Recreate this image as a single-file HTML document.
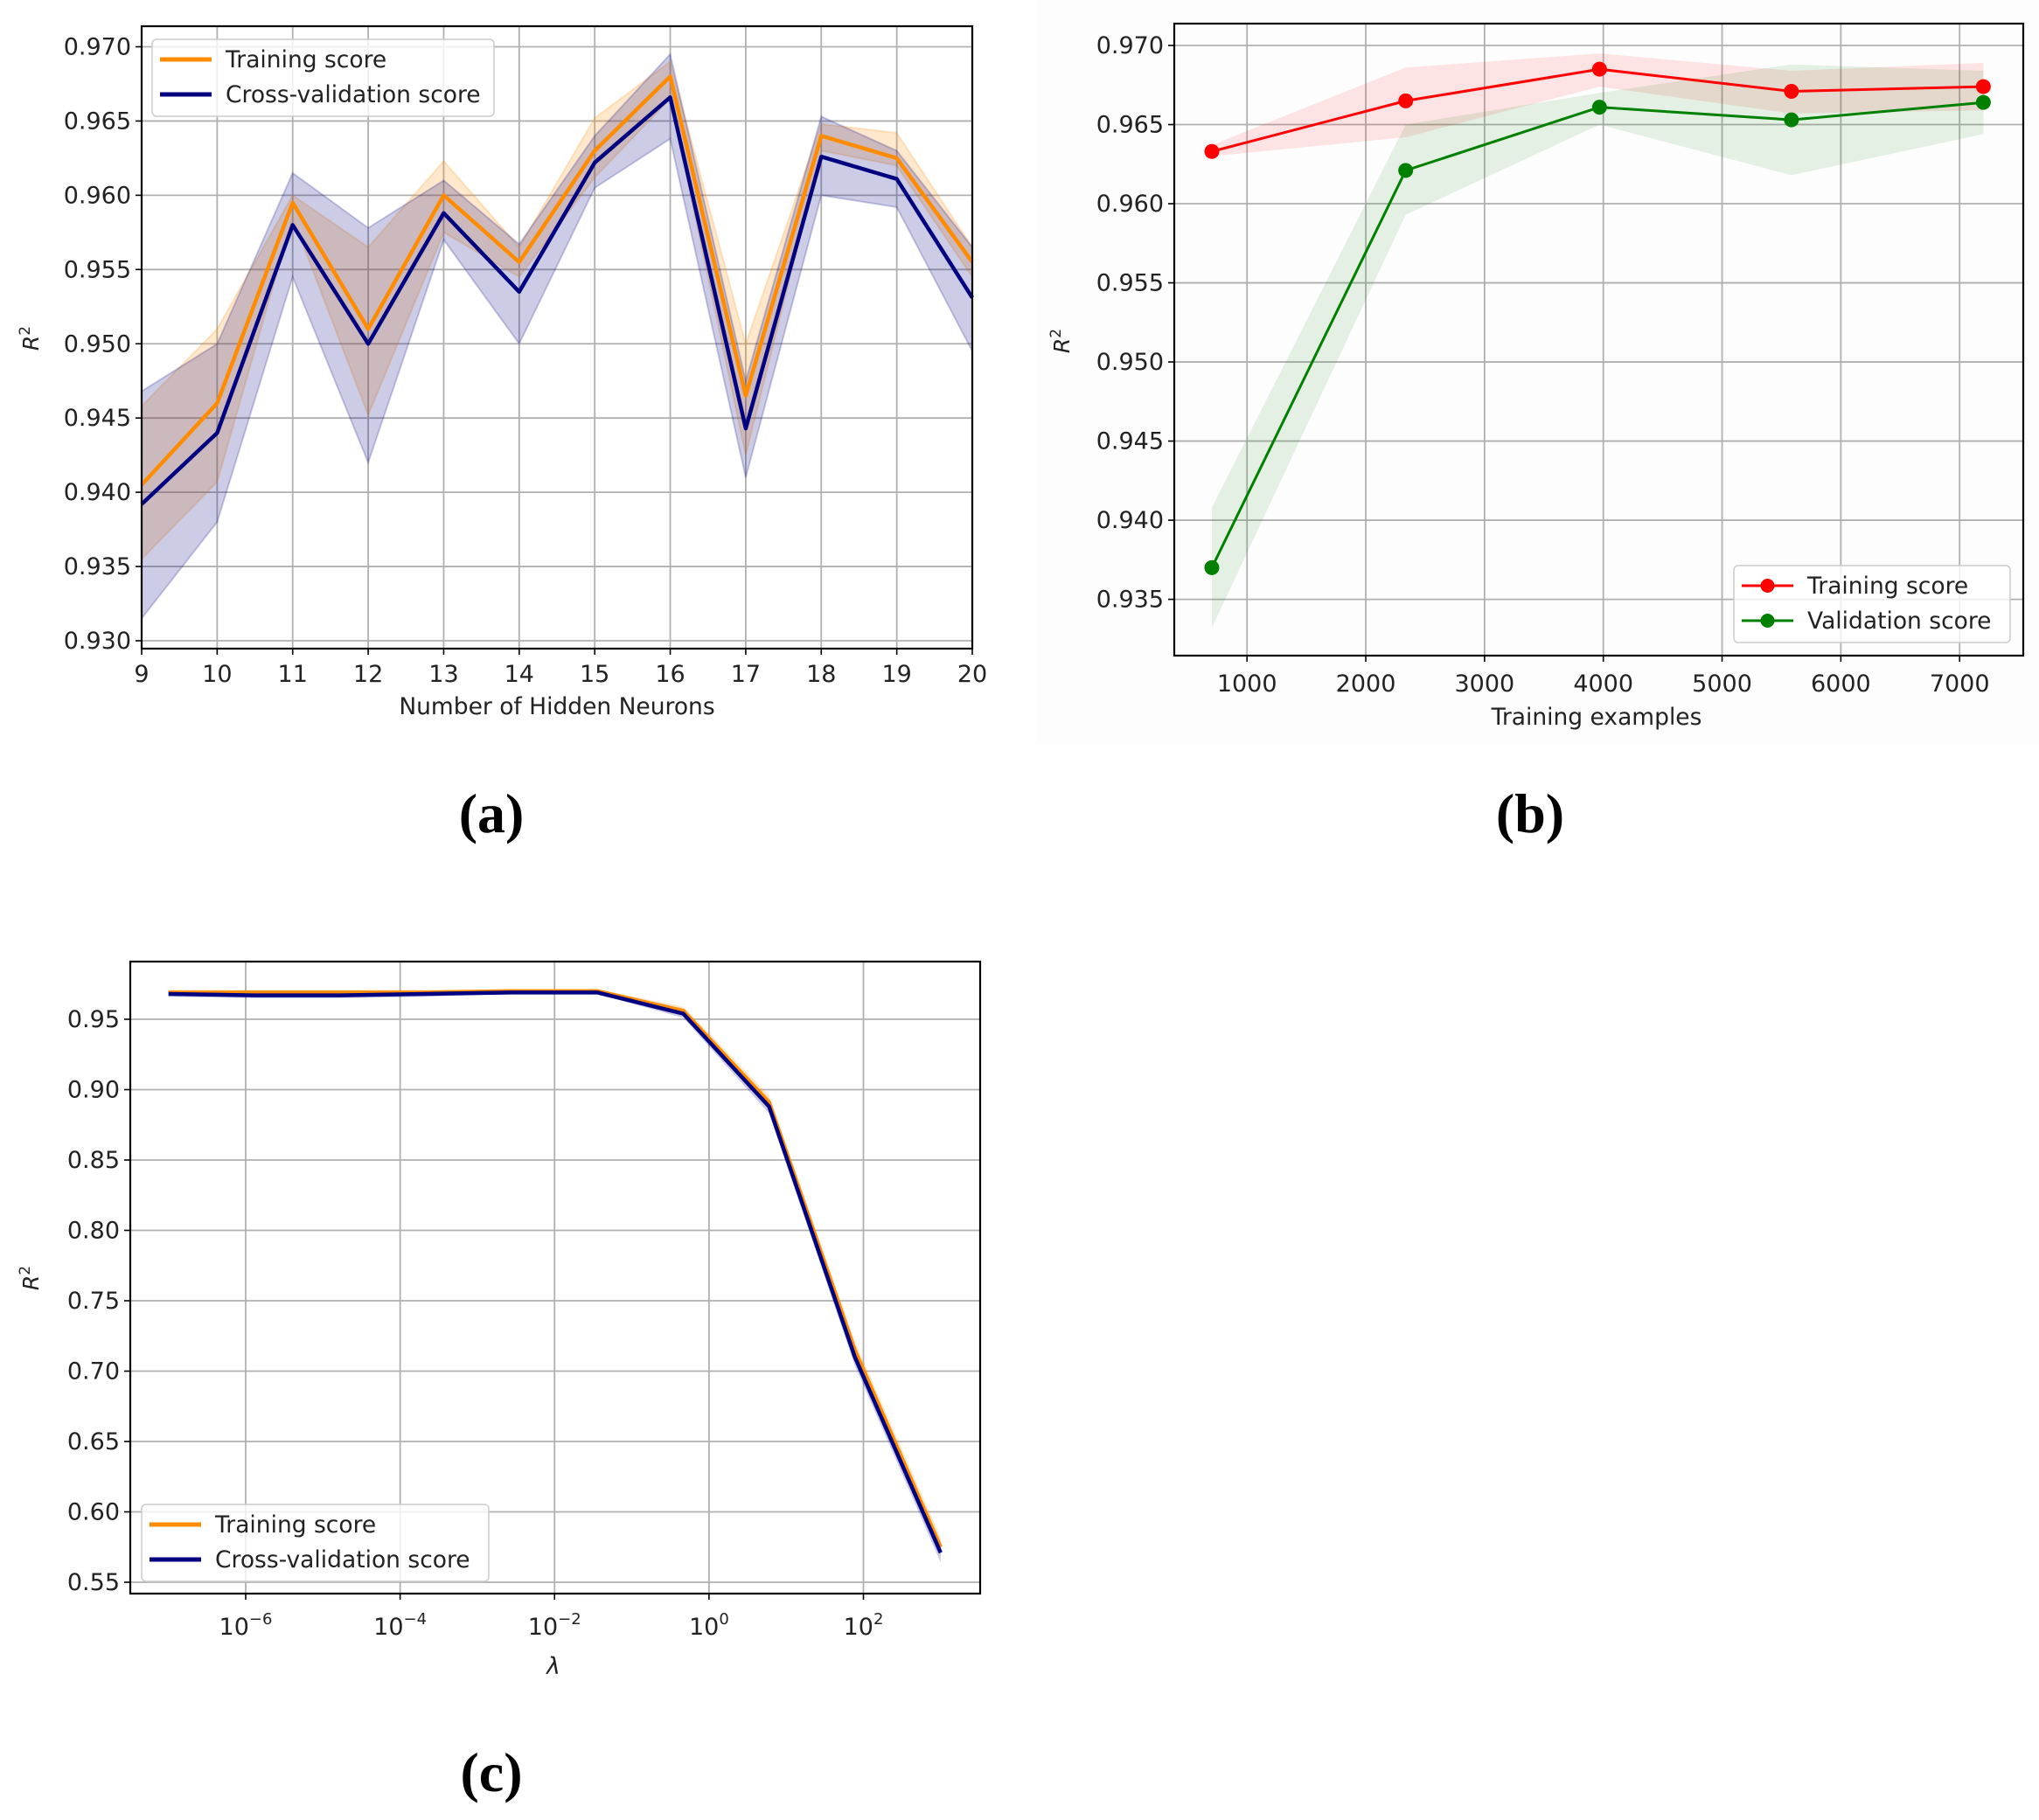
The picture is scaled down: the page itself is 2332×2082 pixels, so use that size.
<!DOCTYPE html>
<html><head><meta charset="utf-8">
<style>
html,body{margin:0;padding:0;background:#fff;}
svg{display:block;}
text{font-family:"DejaVu Sans","Liberation Sans",sans-serif;fill:#222;}
.cap{font-family:"Liberation Serif","DejaVu Serif",serif;font-weight:bold;fill:#000;}
</style></head>
<body>
<svg id="fig" width="2332" height="2082" viewBox="0 0 2332 2082" xmlns="http://www.w3.org/2000/svg">
<rect x="0" y="0" width="2332" height="2082" fill="#fff"/>
<rect x="1185" y="0" width="1147" height="850" fill="#fdfdfd"/>
</svg>
<script>
// ---------- Panel (a) data ----------
const aX = [9,10,11,12,13,14,15,16,17,18,19,20];
const aTrain = [0.9405,0.946,0.9595,0.951,0.960,0.9555,0.963,0.968,0.9465,0.964,0.9625,0.9555];
const aTrainLo = [0.9355,0.9407,0.9585,0.9452,0.9575,0.9545,0.9612,0.9665,0.9425,0.963,0.962,0.9545];
const aTrainHi = [0.9458,0.951,0.960,0.9565,0.9623,0.9565,0.9652,0.969,0.950,0.9648,0.9642,0.9565];
const aCV = [0.9392,0.944,0.958,0.950,0.9588,0.9535,0.9622,0.9666,0.9443,0.9626,0.9611,0.9531];
const aCVLo = [0.9315,0.938,0.9545,0.942,0.957,0.950,0.9605,0.9638,0.941,0.960,0.9592,0.9495];
const aCVHi = [0.9468,0.950,0.9615,0.9578,0.961,0.9567,0.964,0.9695,0.9475,0.9653,0.963,0.9565];
const aYTicks = [0.930,0.935,0.940,0.945,0.950,0.955,0.960,0.965,0.970];
const aXTicks = [9,10,11,12,13,14,15,16,17,18,19,20];
// ---------- Panel (b) data ----------
const bX = [704,2336,3968,5584,7200];
const bTrain = [0.9633,0.9665,0.9685,0.9671,0.9674];
const bTrainLo = [0.9630,0.9642,0.9674,0.9657,0.9659];
const bTrainHi = [0.9637,0.9686,0.9695,0.9684,0.9689];
const bVal = [0.937,0.9621,0.9661,0.9653,0.9664];
const bValLo = [0.9332,0.9593,0.965,0.9618,0.9644];
const bValHi = [0.9408,0.965,0.967,0.9688,0.9684];
const bYTicks = [0.935,0.940,0.945,0.950,0.955,0.960,0.965,0.970];
const bXTicks = [1000,2000,3000,4000,5000,6000,7000];
// ---------- Panel (c) data ----------
const cLogX = [-7,-5.889,-4.778,-3.667,-2.556,-1.444,-0.333,0.778,1.889,3];
const cTrain = [0.969,0.969,0.969,0.969,0.970,0.970,0.956,0.891,0.715,0.575];
const cCV = [0.968,0.967,0.967,0.968,0.969,0.969,0.954,0.888,0.710,0.571];
const cBand = [0.002,0.002,0.002,0.002,0.001,0.001,0.003,0.005,0.006,0.007];
const cYTicks = [0.55,0.60,0.65,0.70,0.75,0.80,0.85,0.90,0.95];
const cXTicks = [-6,-4,-2,0,2];

const svg = document.getElementById('fig');
const NS = 'http://www.w3.org/2000/svg';
const TF = 27, LF = 26.5;
function mk(tag, attrs, parent){
  const el = document.createElementNS(NS, tag);
  for (const k in attrs) el.setAttribute(k, attrs[k]);
  (parent||svg).appendChild(el);
  return el;
}
function linScale(d0,d1,r0,r1){return v => r0 + (v-d0)*(r1-r0)/(d1-d0);}
function pts(xs, ys, sx, sy){return xs.map((x,i)=>sx(x).toFixed(1)+','+sy(ys[i]).toFixed(1)).join(' ');}
function band(xs, lo, hi, sx, sy){
  const up = xs.map((x,i)=>sx(x).toFixed(1)+','+sy(hi[i]).toFixed(1));
  const dn = xs.map((x,i)=>sx(x).toFixed(1)+','+sy(lo[i]).toFixed(1)).reverse();
  return up.concat(dn).join(' ');
}
function frame(g, L,T,R,B){
  const f = mk('rect',{x:L,y:T,width:R-L,height:B-T,fill:'none',stroke:'#000','stroke-width':2.2},g);
  
  
}
function gridY(g, ticks, sy, L, R, fmt){
  ticks.forEach(t=>{
    const y = sy(t);
    const l = mk('line',{x1:L,x2:R,y1:y,y2:y,stroke:'#b0b0b0','stroke-width':1.8},g);
    
    
    const tk = mk('line',{x1:L-7,x2:L,y1:y,y2:y,stroke:'#000','stroke-width':1.6},g);
    
    
    const tx = mk('text',{x:L-12,y:y+9,'text-anchor':'end','font-size':TF},g);
    tx.textContent = fmt(t);
    
    
  });
}
function gridX(g, ticks, sx, T, B, labelY, fmt){
  ticks.forEach(t=>{
    const x = sx(t);
    const l = mk('line',{x1:x,x2:x,y1:T,y2:B,stroke:'#b0b0b0','stroke-width':1.8},g);
    
    
    const tk = mk('line',{x1:x,x2:x,y1:B,y2:B+7,stroke:'#000','stroke-width':1.6},g);
    
    
    const tx = mk('text',{x:x,y:labelY,'text-anchor':'middle','font-size':TF},g);
    fmt(tx,t);
    
    
  });
}
function r2label(g, x, y){
  const t = mk('text',{transform:`translate(${x},${y}) rotate(-90)`,'text-anchor':'middle','font-size':25},g);
  t.innerHTML = '<tspan font-style="italic">R</tspan><tspan dy="-10" font-size="17">2</tspan>';
  
  
}
function legend(g, x, y, w, h, items, marker){
  const box = mk('rect',{x:x,y:y,width:w,height:h,rx:5,fill:'#fff','fill-opacity':0.8,stroke:'#ccc','stroke-width':1.5},g);
  
  
  items.forEach((it,i)=>{
    const cy = y + 23 + i*40;
    const ln = mk('line',{x1:x+9,x2:x+68,y1:cy,y2:cy,stroke:it.c,'stroke-width':it.w},g);
    
    
    if(marker){
      const m = mk('circle',{cx:x+38.5,cy:cy,r:8,fill:it.c},g);
      
      
    }
    const t = mk('text',{x:x+84,y:cy+9,'font-size':LF},g);
    t.textContent = it.t;
    
    
  });
}
function caption(txt, x, y, name){
  const t = mk('text',{x:x,y:y,'text-anchor':'middle','font-size':64,class:'cap'});
  t.textContent = txt;
  
  
}

// ===== Panel (a) =====
(function(){
  const g = mk('g',{});
  
  
  const L=162,R=1112,T=30,B=742;
  const sx = linScale(9,20,L,R), sy = linScale(0.930,0.970,733,53.5);
  gridY(g,aYTicks,sy,L,R,v=>v.toFixed(3));
  gridX(g,aXTicks,sx,T,B,780,(el,t)=>{el.textContent=t;});
  const bt = mk('polygon',{points:band(aX,aTrainLo,aTrainHi,sx,sy),fill:'#ff8c00','fill-opacity':0.2,stroke:'#ff8c00','stroke-opacity':0.2,'stroke-width':2},g);
  
  
  const bc = mk('polygon',{points:band(aX,aCVLo,aCVHi,sx,sy),fill:'#000080','fill-opacity':0.2,stroke:'#000080','stroke-opacity':0.2,'stroke-width':2},g);
  
  
  const lt = mk('polyline',{points:pts(aX,aTrain,sx,sy),fill:'none',stroke:'#ff8c00','stroke-width':4.5,'stroke-linejoin':'round'},g);
  
  
  const lc = mk('polyline',{points:pts(aX,aCV,sx,sy),fill:'none',stroke:'#000080','stroke-width':4.5,'stroke-linejoin':'round'},g);
  
  
  frame(g,L,T,R,B);
  legend(g,174,45,391,88,[{t:'Training score',c:'#ff8c00',w:5},{t:'Cross-validation score',c:'#000080',w:5}],false);
  const xt = mk('text',{x:637,y:817,'text-anchor':'middle','font-size':LF},g);
  xt.textContent='Number of Hidden Neurons';
  
  
  r2label(g,44,387);
})();

// ===== Panel (b) =====
(function(){
  const g = mk('g',{});
  
  
  const L=1343,R=2314,T=27,B=750;
  const sx = linScale(1000,7000,1426.2,2241.2), sy = linScale(0.935,0.970,685.6,52);
  gridY(g,bYTicks,sy,L,R,v=>v.toFixed(3));
  gridX(g,bXTicks,sx,T,B,791,(el,t)=>{el.textContent=t;});
  const bt = mk('polygon',{points:band(bX,bTrainLo,bTrainHi,sx,sy),fill:'#ff0000','fill-opacity':0.1,stroke:'none'},g);
  
  
  const bv = mk('polygon',{points:band(bX,bValLo,bValHi,sx,sy),fill:'#008000','fill-opacity':0.1,stroke:'none'},g);
  
  
  const lt = mk('polyline',{points:pts(bX,bTrain,sx,sy),fill:'none',stroke:'#ff0000','stroke-width':3},g);
  
  
  const lv = mk('polyline',{points:pts(bX,bVal,sx,sy),fill:'none',stroke:'#008000','stroke-width':3},g);
  
  
  bX.forEach((x,i)=>{
    const m = mk('circle',{cx:sx(x),cy:sy(bTrain[i]),r:8.5,fill:'#ff0000'},g);
    
    
    const n = mk('circle',{cx:sx(x),cy:sy(bVal[i]),r:8.5,fill:'#008000'},g);
    
    
  });
  frame(g,L,T,R,B);
  legend(g,1983,647,316,88,[{t:'Training score',c:'#ff0000',w:3},{t:'Validation score',c:'#008000',w:3}],true);
  const xt = mk('text',{x:1826,y:829,'text-anchor':'middle','font-size':LF},g);
  xt.textContent='Training examples';
  
  
  r2label(g,1223,390);
})();

// ===== Panel (c) =====
(function(){
  const g = mk('g',{});
  
  
  const L=149,R=1121,T=1100,B=1823;
  const sx = linScale(-6,2,281,987.5), sy = linScale(0.55,0.95,1810,1166);
  gridY(g,cYTicks,sy,L,R,v=>v.toFixed(2));
  gridX(g,cXTicks,sx,T,B,1870,(el,t)=>{el.innerHTML='10<tspan dy="-12" font-size="18">'+(t<0?'\u2212'+(-t):t)+'</tspan>';});
  const lo1 = cTrain.map((v,i)=>v-cBand[i]), hi1 = cTrain.map((v,i)=>v+cBand[i]);
  const lo2 = cCV.map((v,i)=>v-cBand[i]), hi2 = cCV.map((v,i)=>v+cBand[i]);
  const bt = mk('polygon',{points:band(cLogX,lo1,hi1,sx,sy),fill:'#ff8c00','fill-opacity':0.2,stroke:'none'},g);
  
  
  const bc = mk('polygon',{points:band(cLogX,lo2,hi2,sx,sy),fill:'#000080','fill-opacity':0.2,stroke:'none'},g);
  
  
  const lt = mk('polyline',{points:pts(cLogX,cTrain,sx,sy),fill:'none',stroke:'#ff8c00','stroke-width':4.5},g);
  
  
  const lc = mk('polyline',{points:pts(cLogX,cCV,sx,sy),fill:'none',stroke:'#000080','stroke-width':4.5},g);
  
  
  frame(g,L,T,R,B);
  legend(g,162,1721,397,88,[{t:'Training score',c:'#ff8c00',w:5},{t:'Cross-validation score',c:'#000080',w:5}],false);
  const xt = mk('text',{x:633,y:1915,'text-anchor':'middle','font-size':LF,'font-style':'italic'},g);
  xt.textContent='\u03bb';
  
  
  r2label(g,44,1462);
})();

caption('(a)',562,952,'caption-a');
caption('(b)',1750,952,'caption-b');
caption('(c)',562,2049,'caption-c');
</script>
</body></html>
